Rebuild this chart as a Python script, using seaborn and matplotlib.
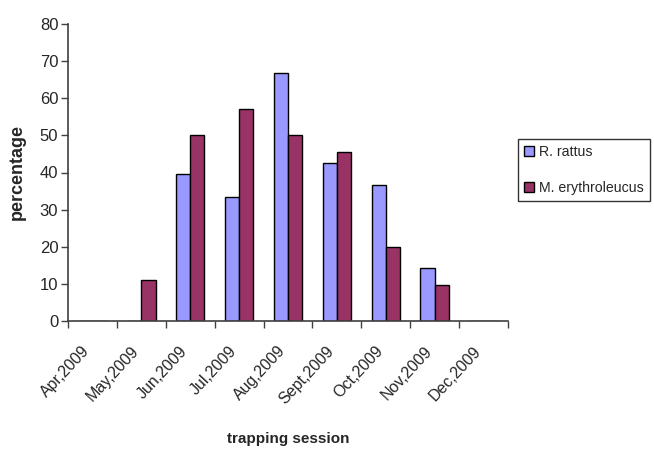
import matplotlib
matplotlib.use("Agg")
import matplotlib.pyplot as plt
import matplotlib.transforms as mtransforms
import seaborn as sns
import pandas as pd
from matplotlib.ticker import FixedLocator

sessions = ["Apr,2009", "May,2009", "Jun,2009", "Jul,2009", "Aug,2009",
            "Sept,2009", "Oct,2009", "Nov,2009", "Dec,2009"]
r_rattus = [0, 0, 39.7, 33.3, 66.7, 42.6, 36.5, 14.3, 0]
m_erythroleucus = [0, 11.0, 50.0, 57.1, 50.0, 45.5, 20.0, 9.8, 0]
series_names = ["R. rattus", "M. erythroleucus"]
colors = ["#9999FF", "#993366"]

df = pd.DataFrame({
    "session": sessions * 2,
    "value": r_rattus + m_erythroleucus,
    "species": [series_names[0]] * len(sessions) + [series_names[1]] * len(sessions),
})

sns.set_theme(style="white")
plt.rcParams['font.family'] = ['Liberation Sans Narrow', 'Liberation Sans', 'DejaVu Sans']

fig = plt.figure(figsize=(6.54, 4.53), dpi=100)
ax = fig.add_axes([68/654, 1-321/453, (508-68)/654, (321-24)/453])

sns.barplot(data=df, x="session", y="value", hue="species", order=sessions,
            hue_order=series_names, palette=colors, width=0.58, gap=0,
            edgecolor="black", linewidth=1.0, ax=ax, saturation=1, errorbar=None)

ax.set_xlim(-0.5, len(sessions) - 0.5)
ax.set_ylim(0, 80)
ax.set_yticks(range(0, 81, 10))
ax.tick_params(axis="y", labelsize=12, length=5, width=1, color="#404040", direction="out", left=True, pad=2)

ax.set_xticks(range(len(sessions)))
ax.set_xticklabels(sessions, rotation=47, ha="right", rotation_mode="anchor", fontsize=11.5)
ax.tick_params(axis="x", which="major", length=0, pad=16)
offset = mtransforms.ScaledTranslation(-11/100, 0, fig.dpi_scale_trans)
for lbl in ax.get_xticklabels():
    lbl.set_transform(lbl.get_transform() + offset)
ax.xaxis.set_minor_locator(FixedLocator([i - 0.5 for i in range(len(sessions) + 1)]))
ax.tick_params(axis="x", which="minor", length=5, width=1, color="#404040", direction="out", bottom=True)

for s in ["top", "right"]:
    ax.spines[s].set_visible(False)
for s in ["left", "bottom"]:
    ax.spines[s].set_color("#404040")
    ax.spines[s].set_linewidth(1.2)

ax.set_xlabel("trapping session", fontsize=11, fontweight="bold")
ax.xaxis.set_label_coords(0.5, -0.375)
ax.set_ylabel("percentage", fontsize=13, fontweight="bold", labelpad=10)

leg = ax.legend(loc="upper left", bbox_to_anchor=(518/654, 1-139/453), bbox_transform=fig.transFigure,
                frameon=True, fancybox=False, fontsize=10.2, handlelength=0.7, handleheight=0.7,
                handletextpad=0.3, borderpad=0.45, labelspacing=1.5, borderaxespad=0)
leg.get_frame().set_edgecolor("black")
leg.get_frame().set_linewidth(1.0)
for h in leg.legend_handles:
    h.set_edgecolor("black")
    h.set_linewidth(1.0)

fig.savefig("out.png", dpi=100)
